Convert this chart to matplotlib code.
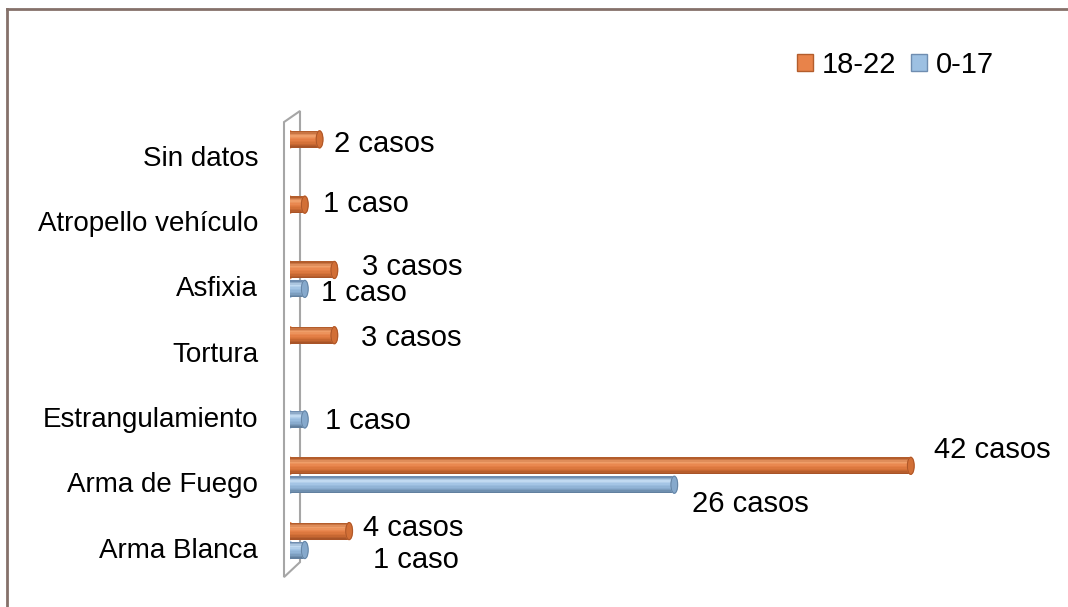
import numpy as np
import matplotlib.pyplot as plt
import matplotlib.colors as mcolors
from matplotlib.patches import Ellipse, Polygon, Patch
from matplotlib.lines import Line2D
from matplotlib.transforms import ScaledTranslation

plt.rcParams['font.family'] = ['Liberation Sans', 'DejaVu Sans']

categorias = ['Arma Blanca', 'Arma de Fuego', 'Estrangulamiento', 'Tortura',
              'Asfixia', 'Atropello vehículo', 'Sin datos']
casos_18_22 = [4, 42, 0, 3, 3, 1, 2]
casos_0_17 = [1, 26, 1, 0, 1, 0, 0]

# offsets (pixels) of the data labels from the bar end, as in the original
off_18_22 = [(14, 3), (23, 16), None, (27, -3), (28, 3), (18, 1), (14, -5)]
off_0_17 = [(68, -10), (18, -19), (20, -2), None, (16, -4), None, None]

# cylinder shading: edge, highlight, body, cap, cap outline
naranja = ['#b35d2c', '#f0a06c', '#e8834a', '#d26f36', '#a85428']
azul = ['#6f8db0', '#c4dcf2', '#9dc0e2', '#86a9cc', '#62809f']

W, H = 1068, 607
fig = plt.figure(figsize=(W / 100, H / 100), dpi=100)
ax = fig.add_axes([290 / W, (H - 573.2) / H, 739 / W, 457 / H])
ax.set_xlim(0, 50)
ax.set_ylim(-0.5, 6.5)

y = np.arange(len(categorias))
alto = 0.26
sep = 0.145
cap_w = 0.45
n_franjas = 12


def cilindros(valores, dy, tonos):
    cm = mcolors.LinearSegmentedColormap.from_list('c', tonos)
    for yi, v in zip(y, valores):
        if v == 0:
            continue
        yc = yi + dy
        ax.add_patch(Ellipse((0, yc), cap_w, alto, color=tonos[2], zorder=2))
        h = alto / n_franjas
        for k in range(n_franjas):
            t = k / (n_franjas - 1)
            ax.barh(yc + alto / 2 - h * (k + 0.5), v, height=h * 1.05,
                    color=cm(t), lw=0, zorder=3)
        ax.add_patch(Ellipse((v, yc), cap_w, alto, color=tonos[3], zorder=4))
        ax.add_patch(Ellipse((v, yc), cap_w, alto, fill=False,
                             edgecolor=tonos[4], lw=0.6, zorder=4))


cilindros(casos_18_22, sep, naranja)
cilindros(casos_0_17, -sep, azul)


def etiquetas(valores, dy, offs):
    for yi, v, o in zip(y, valores, offs):
        if o is None:
            continue
        txt = f'{v} caso' if v == 1 else f'{v} casos'
        ax.annotate(txt, (v, yi + dy), xytext=o, textcoords='offset pixels',
                    ha='left', va='center', fontsize=21, color='black',
                    annotation_clip=False)


etiquetas(casos_18_22, sep, off_18_22)
etiquetas(casos_0_17, -sep, off_0_17)

# 3D wall outline
pared = Polygon([(-0.406, 6.41), (0.677, 6.58), (0.677, -0.33), (-0.406, -0.56)],
                closed=True, fill=False, edgecolor='#a6a6a6', lw=1.5,
                clip_on=False, zorder=1)
ax.add_patch(pared)

ax.set_yticks(y)
ax.set_yticklabels(categorias, fontsize=20)
ax.tick_params(axis='y', length=0, pad=23)
desplaza = ScaledTranslation(0, -7 / 100, fig.dpi_scale_trans)
for lab in ax.get_yticklabels():
    lab.set_transform(lab.get_transform() + desplaza)
ax.set_xticks([])
for s in ax.spines.values():
    s.set_visible(False)

# chart border (top and left visible)
fig.add_artist(Line2D([7 / W, 7 / W], [0, 1 - 9 / H], transform=fig.transFigure,
                      color='#85716a', lw=2))
fig.add_artist(Line2D([7 / W, 1], [1 - 9 / H, 1 - 9 / H], transform=fig.transFigure,
                      color='#85716a', lw=2))

handles = [Patch(facecolor=naranja[2], edgecolor=naranja[0], label='18-22'),
           Patch(facecolor=azul[2], edgecolor=azul[0], label='0-17')]
fig.legend(handles=handles, loc='center right', bbox_to_anchor=(994 / W, 1 - 65 / H),
           ncol=2, frameon=False, fontsize=21, handlelength=0.55, handleheight=0.55,
           handletextpad=0.3, columnspacing=0.5, borderpad=0, borderaxespad=0)

fig.savefig('out.png', dpi=100, facecolor='white')
